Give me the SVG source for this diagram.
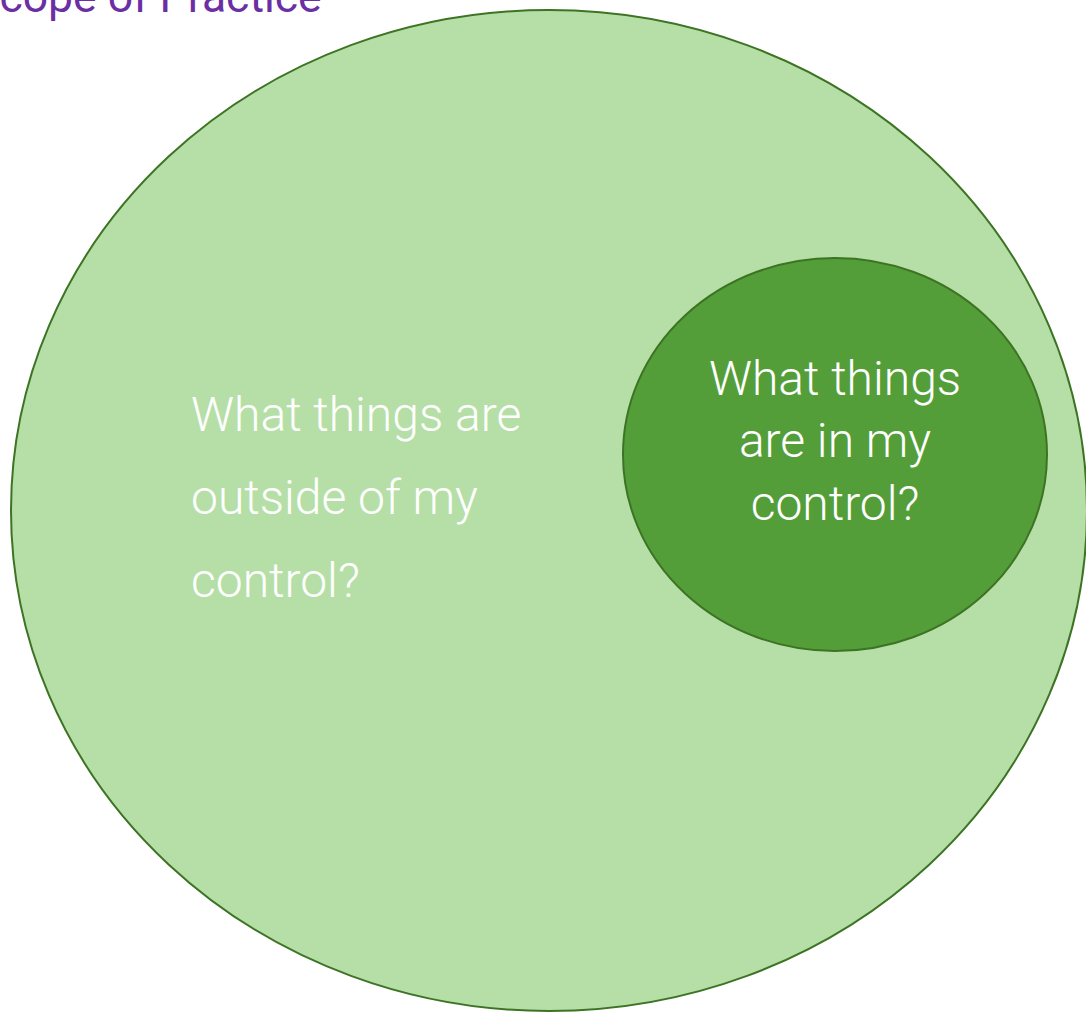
<svg xmlns="http://www.w3.org/2000/svg" width="1086" height="1012" viewBox="0 0 1086 1012">
<style>
.t{font-family:Roboto,"Liberation Sans",sans-serif;font-weight:300;fill:#ffffff;font-size:48px}
.title{font-family:Roboto,"Liberation Sans",sans-serif;font-weight:400;fill:#6b2fa3;font-size:44.5px}
</style>
<rect width="1086" height="1012" fill="#ffffff"/>
<text class="title" x="-27" y="12">Scope of Practice</text>
<g id="outside">
<ellipse cx="549" cy="510.5" rx="538" ry="500.5" fill="#b6dfa7" stroke="#3d7424" stroke-width="2"/>
<text class="t" x="191" y="431">What things are</text>
<text class="t" x="191" y="514">outside of my</text>
<text class="t" x="191" y="597">control?</text>
</g>
<g id="inside">
<ellipse cx="835" cy="454.5" rx="212" ry="196.5" fill="#549e3a" stroke="#3d7424" stroke-width="2"/>
<text class="t" x="835" y="395" text-anchor="middle">What things</text>
<text class="t" x="835" y="457" text-anchor="middle">are in my</text>
<text class="t" x="835" y="520" text-anchor="middle">control?</text>
</g>
<g id="connectors"/>
</svg>
